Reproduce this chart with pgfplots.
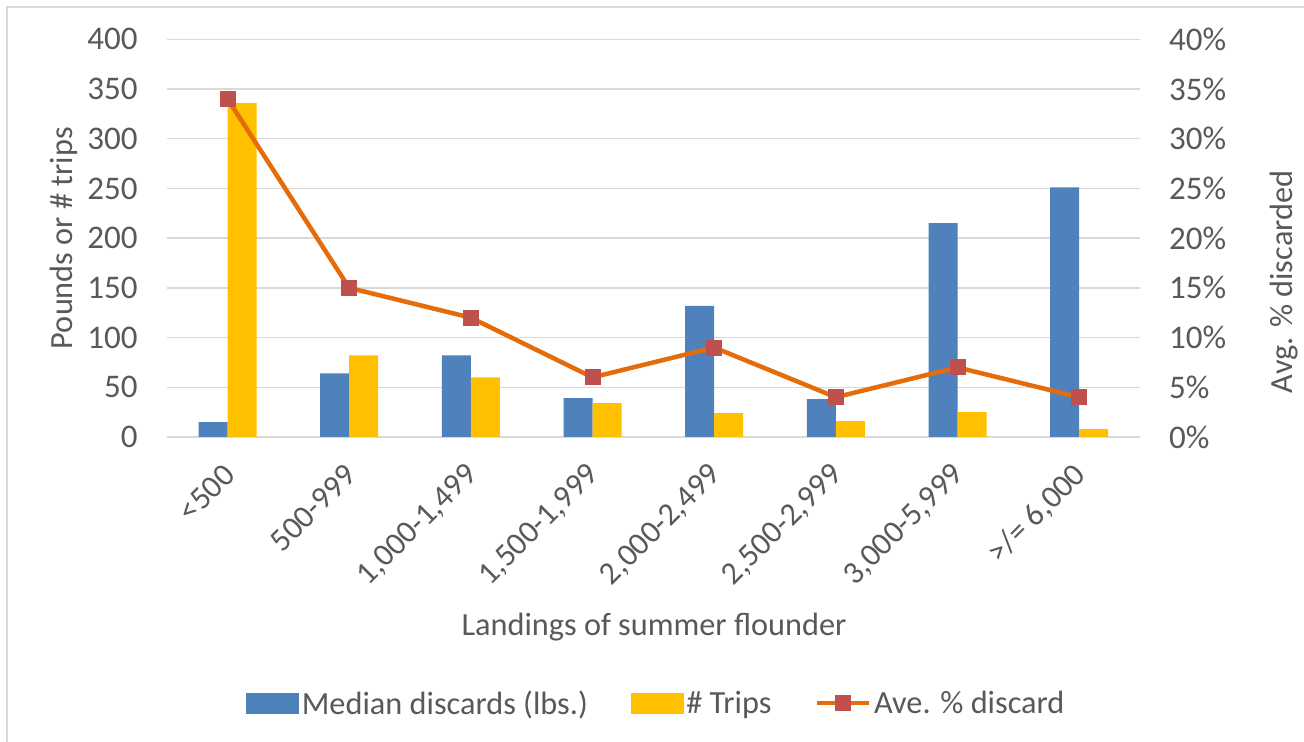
\documentclass[border=0pt]{standalone}
\usepackage{pgfplots}
\pgfplotsset{compat=1.18}
\usepackage{fontspec}
\setmainfont{Carlito}
\definecolor{cblue}{HTML}{4F81BD}
\definecolor{cyellow}{HTML}{FFC000}
\definecolor{corange}{HTML}{E46C0A}
\definecolor{cred}{HTML}{C0504D}
\definecolor{cgrid}{HTML}{D9D9D9}
\definecolor{ctext}{HTML}{595959}
\pgfplotsset{lineleg/.style={legend image code/.code={\draw[mark repeat=2,mark phase=2,##1] plot coordinates {(0bp,0bp)(26bp,0bp)(52bp,0bp)};}}}
\begin{document}
\begin{tikzpicture}
\useasboundingbox (0,0) rectangle (1304bp,742bp);
\fill[white] (0,0) rectangle (1304bp,742bp);
\draw[cgrid, line width=1.5bp] (7bp,0) -- (7bp,735bp) -- (1304bp,735bp);
\pgfplotsset{every axis/.append style={
  font=\fontsize{32.3bp}{38bp}\selectfont,
  /pgf/number format/assume math mode=true,
  scale only axis, width=973.3bp, height=397.7bp,
  at={(166.7bp,305bp)}, anchor=south west,
  xmin=-0.5, xmax=7.5, ymin=0,
  major tick length=0pt,
  axis line style={draw=none},
  tick label style={text=ctext, inner sep=0pt, font=\fontsize{33bp}{38bp}\selectfont},
  label style={text=ctext},
}}
\begin{axis}[
  ymax=400, ytick={0,50,...,400},
  ymajorgrids, grid style={cgrid, line width=1.3bp},
  ybar=0pt, bar width=29bp,
  xtick={0,...,7},
  xticklabels={{<500},{500-999},{1,000-1,499},{1,500-1,999},{2,000-2,499},{2,500-2,999},{3,000-5,999},{>/= 6,000}},
  xticklabel style={xshift=2bp, yshift=-33bp, rotate=45, anchor=east, font=\fontsize{32bp}{38bp}\selectfont},
  yticklabel style={anchor=east, xshift=-29bp},
  xlabel={Landings of summer flounder},
  xlabel style={at={(axis description cs:0.5007,-0.478)}, anchor=center},
  ylabel={Pounds or \# trips},
  ylabel style={at={(axis description cs:-0.1055,0.5)}, anchor=center},
]
\addplot[fill=cblue, draw=none] coordinates {(0,15) (1,64) (2,82) (3,39) (4,132) (5,38) (6,215) (7,251)};
\addplot[fill=cyellow, draw=none] coordinates {(0,336) (1,82) (2,60) (3,34) (4,24) (5,16) (6,25) (7,8)};
\end{axis}
\begin{axis}[
  hide x axis,
  axis y line*=right,
  ymax=40, ytick={0,5,...,40},
  yticklabel={\pgfmathprintnumber{\tick}\%},
  yticklabel style={anchor=west, xshift=29bp},
  ylabel={Avg. \% discarded},
  ylabel style={at={(axis description cs:1.1475,0.39)}, anchor=center, rotate=0},
  legend columns=3,
  legend style={draw=none, fill=none, at={(axis description cs:0.5037,-0.669)}, anchor=center,
    text=ctext, nodes={inner sep=3bp},
    /tikz/every even column/.append style={column sep=40bp}},
]
\addlegendimage{legend image code/.code={\fill[cblue] (0bp,-10bp) rectangle (52bp,10bp);}}
\addlegendentry{Median discards (lbs.)}
\addlegendimage{legend image code/.code={\fill[cyellow] (0bp,-10bp) rectangle (52bp,10bp);}}
\addlegendentry{\# Trips}
\addplot[corange, line width=4.5bp, mark=square*, mark size=7.5bp,
  mark options={fill=cred, draw=cred, line width=0pt}, lineleg]
  coordinates {(0,34) (1,15) (2,12) (3,6) (4,9) (5,4) (6,7) (7,4)};
\addlegendentry{Ave. \% discard}
\end{axis}
\end{tikzpicture}
\end{document}
